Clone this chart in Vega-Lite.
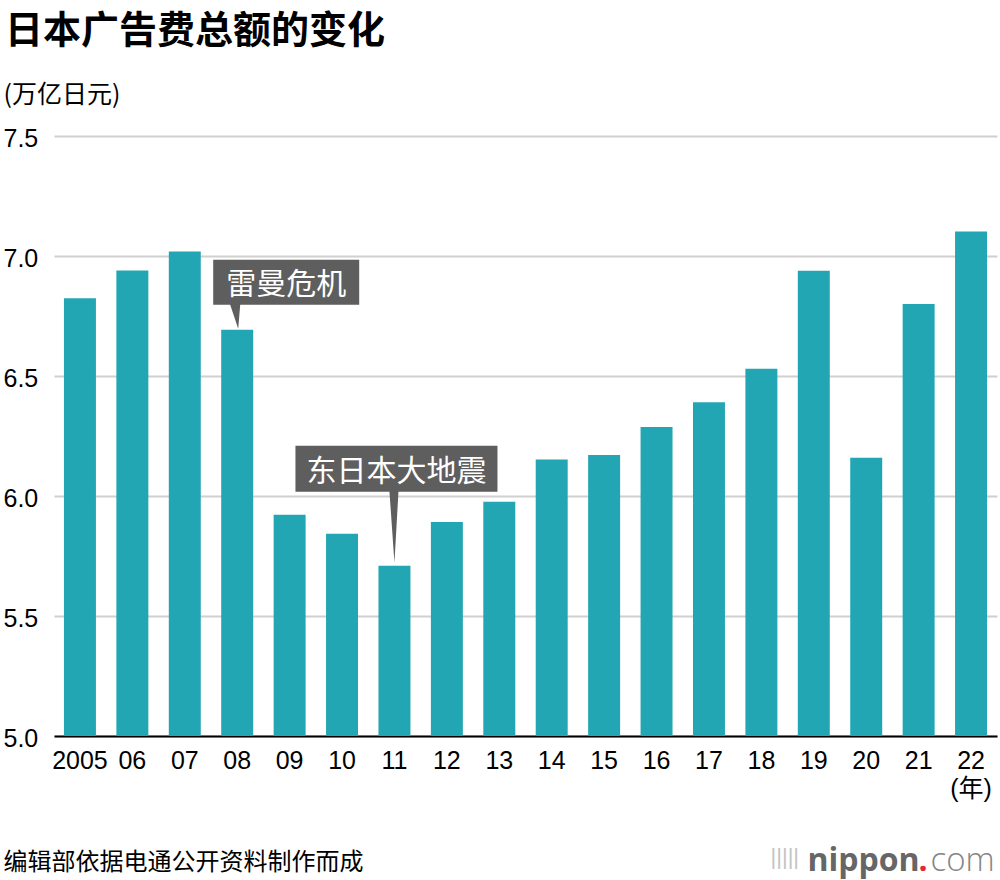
{
  "$schema": "https://vega.github.io/schema/vega-lite/v6.json",
  "autosize": {"type": "none"},
  "width": 943,
  "height": 600,
  "padding": {"left": 54, "top": 136, "right": 3, "bottom": 144},
  "background": "#ffffff",
  "config": {"view": {"stroke": null}},
  "title": {
    "text": "日本广告费总额的变化",
    "anchor": "start",
    "frame": "group",
    "dx": -49,
    "offset": 1,
    "baseline": "alphabetic",
    "font": "Noto Sans CJK SC",
    "fontSize": 38,
    "fontWeight": "bold",
    "color": "#000000"
  },
  "datasets": {
    "ad": [
      {"year": 2005, "value": 6.8235},
      {"year": 2006, "value": 6.9399},
      {"year": 2007, "value": 7.0191},
      {"year": 2008, "value": 6.6926},
      {"year": 2009, "value": 5.9222},
      {"year": 2010, "value": 5.8427},
      {"year": 2011, "value": 5.7096},
      {"year": 2012, "value": 5.8913},
      {"year": 2013, "value": 5.9762},
      {"year": 2014, "value": 6.1522},
      {"year": 2015, "value": 6.171},
      {"year": 2016, "value": 6.288},
      {"year": 2017, "value": 6.3907},
      {"year": 2018, "value": 6.53},
      {"year": 2019, "value": 6.9381},
      {"year": 2020, "value": 6.1594},
      {"year": 2021, "value": 6.7998},
      {"year": 2022, "value": 7.1021}
    ],
    "events": [
      {"year": 2008, "value": 6.6926, "label": "雷曼危机"},
      {"year": 2011, "value": 5.7096, "label": "东日本大地震"}
    ]
  },
  "layer": [
    {
      "data": {"name": "ad"},
      "mark": {"type": "bar", "color": "#22a6b3"},
      "encoding": {
        "x": {
          "field": "year",
          "type": "ordinal",
          "scale": {
            "domain": [2005, 2006, 2007, 2008, 2009, 2010, 2011, 2012, 2013, 2014, 2015, 2016, 2017, 2018, 2019, 2020, 2021, 2022],
            "paddingInner": 0.39,
            "paddingOuter": 0.19
          },
          "axis": {
            "orient": "bottom",
            "labelAngle": 0,
            "labelExpr": "datum.value === 2005 ? '2005' : (datum.value === 2022 ? ['22', '(年)'] : substring(toString(datum.value), 2, 4))",
            "labelFont": "Liberation Sans, Noto Sans CJK SC",
            "labelFontSize": 25,
            "labelColor": "#000000",
            "labelPadding": 12,
            "labelLineHeight": 28,
            "labelBaseline": "top",
            "labelOverlap": false,
            "ticks": false,
            "tickSize": 0,
            "domain": true,
            "domainColor": "#000000",
            "domainWidth": 2,
            "grid": false,
            "title": "编辑部依据电通公开资料制作而成",
            "titleFont": "Noto Sans CJK SC",
            "titleFontSize": 24,
            "titleFontWeight": "normal",
            "titleColor": "#000000",
            "titleAlign": "left",
            "titleAnchor": "start",
            "titleBaseline": "alphabetic",
            "titleX": -51,
            "titleY": 133
          }
        },
        "y": {
          "field": "value",
          "type": "quantitative",
          "scale": {"domain": [5, 7.5], "zero": false, "nice": false},
          "axis": {
            "orient": "left",
            "values": [5, 5.5, 6, 6.5, 7, 7.5],
            "format": ".1f",
            "labelFont": "Liberation Sans",
            "labelFontSize": 25,
            "labelColor": "#000000",
            "labelAlign": "left",
            "labelBaseline": "middle",
            "labelPadding": 51,
            "labelOffset": 2,
            "ticks": false,
            "tickSize": 0,
            "domain": false,
            "grid": true,
            "gridColor": "#d0d0d0",
            "gridWidth": 2,
            "title": "(万亿日元)",
            "titleFont": "Noto Sans CJK SC",
            "titleFontSize": 25,
            "titleFontWeight": "normal",
            "titleColor": "#000000",
            "titleAngle": 0,
            "titleAlign": "left",
            "titleBaseline": "alphabetic",
            "titleX": -51,
            "titleY": -34
          }
        },
        "y2": {"datum": 5}
      }
    },
    {
      "data": {"name": "events"},
      "transform": [{"filter": "datum.year === 2008"}],
      "mark": {
        "type": "point",
        "shape": "M-24,-70L122,-70L122,-25L3,-25L1,-1L-7,-25L-24,-25Z",
        "size": 4,
        "filled": true,
        "color": "#5e5e5e",
        "opacity": 1,
        "strokeWidth": 0
      },
      "encoding": {
        "x": {
          "field": "year",
          "type": "ordinal",
          "axis": {
            "orient": "top",
            "labels": false,
            "ticks": false,
            "domain": false,
            "grid": false,
            "title": "nippon",
            "titleFont": "Open Sans",
            "titleFontSize": 32,
            "titleFontWeight": "bold",
            "titleColor": "#666666",
            "titleAngle": 0,
            "titleAlign": "left",
            "titleAnchor": "start",
            "titleBaseline": "alphabetic",
            "titleX": 753,
            "titleY": 734
          }
        },
        "y": {
          "field": "value",
          "type": "quantitative",
          "scale": {"domain": [5, 7.5], "zero": false, "nice": false},
          "axis": {
            "orient": "right",
            "labels": false,
            "ticks": false,
            "domain": false,
            "grid": false,
            "title": "com",
            "titleFont": "Open Sans",
            "titleFontSize": 33,
            "titleFontWeight": 300,
            "titleColor": "#858585",
            "titleAngle": 0,
            "titleAlign": "left",
            "titleBaseline": "alphabetic",
            "titleX": -67,
            "titleY": 734
          }
        }
      }
    },
    {
      "data": {"name": "events"},
      "transform": [{"filter": "datum.year === 2008"}],
      "mark": {
        "type": "text",
        "dx": 49,
        "dy": -44.5,
        "align": "center",
        "baseline": "middle",
        "font": "Noto Sans CJK SC",
        "fontSize": 30,
        "color": "#ffffff"
      },
      "encoding": {
        "x": {"field": "year", "type": "ordinal", "axis": null},
        "y": {"field": "value", "type": "quantitative", "scale": {"domain": [5, 7.5], "zero": false, "nice": false}, "axis": null},
        "text": {"field": "label"}
      }
    },
    {
      "data": {"name": "events"},
      "transform": [{"filter": "datum.year === 2011"}],
      "mark": {
        "type": "point",
        "shape": "M-99,-120L103,-120L103,-74L4,-74L0,-3L-5,-74L-99,-74Z",
        "size": 4,
        "filled": true,
        "color": "#5e5e5e",
        "opacity": 1,
        "strokeWidth": 0
      },
      "encoding": {
        "x": {
          "field": "year",
          "type": "ordinal",
          "axis": {
            "orient": "top",
            "labels": false,
            "ticks": false,
            "domain": false,
            "grid": false,
            "title": ".",
            "titleFont": "Open Sans",
            "titleFontSize": 32,
            "titleFontWeight": "bold",
            "titleColor": "#e8262f",
            "titleAngle": 0,
            "titleAlign": "left",
            "titleAnchor": "start",
            "titleBaseline": "alphabetic",
            "titleX": 864,
            "titleY": 734
          }
        },
        "y": {
          "field": "value",
          "type": "quantitative",
          "scale": {"domain": [5, 7.5], "zero": false, "nice": false},
          "axis": {
            "orient": "left",
            "labels": false,
            "ticks": false,
            "domain": false,
            "grid": false,
            "title": "|||||",
            "titleFont": "Liberation Sans",
            "titleFontSize": 22,
            "titleFontWeight": "normal",
            "titleColor": "#c4c4c4",
            "titleAngle": 0,
            "titleAlign": "left",
            "titleBaseline": "alphabetic",
            "titleX": 716,
            "titleY": 727
          }
        }
      }
    },
    {
      "data": {"name": "events"},
      "transform": [{"filter": "datum.year === 2011"}],
      "mark": {
        "type": "text",
        "dx": 2,
        "dy": -94,
        "align": "center",
        "baseline": "middle",
        "font": "Noto Sans CJK SC",
        "fontSize": 30,
        "color": "#ffffff"
      },
      "encoding": {
        "x": {"field": "year", "type": "ordinal", "axis": null},
        "y": {"field": "value", "type": "quantitative", "scale": {"domain": [5, 7.5], "zero": false, "nice": false}, "axis": null},
        "text": {"field": "label"}
      }
    }
  ],
  "resolve": {"axis": {"x": "independent", "y": "independent"}}
}
